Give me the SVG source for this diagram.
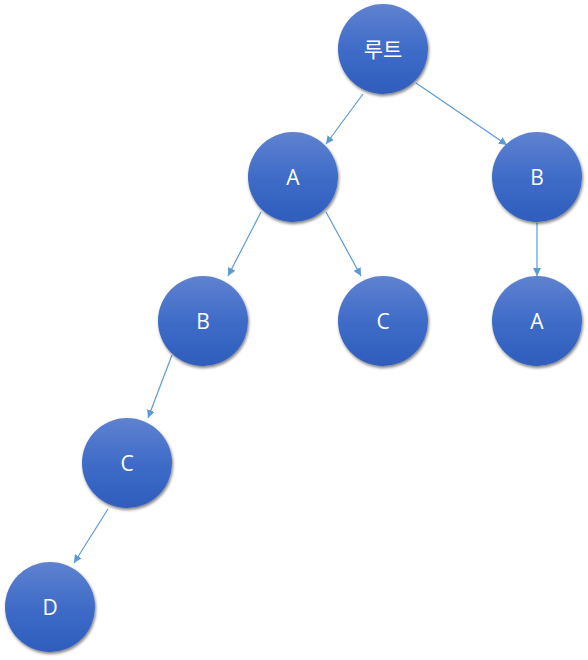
<svg xmlns="http://www.w3.org/2000/svg" width="588" height="660" viewBox="0 0 588 660">
<defs>
<linearGradient id="g" x1="0" y1="0" x2="0" y2="1">
<stop offset="0" stop-color="#5f82d0"/>
<stop offset="0.5" stop-color="#3f6cc8"/>
<stop offset="1" stop-color="#2f5dbd"/>
</linearGradient>
<filter id="sh" x="-20%" y="-20%" width="150%" height="150%">
<feGaussianBlur in="SourceAlpha" stdDeviation="1.5"/>
<feOffset dx="1" dy="2" result="b"/>
<feComponentTransfer><feFuncA type="linear" slope="0.5"/></feComponentTransfer>
<feMerge><feMergeNode/><feMergeNode in="SourceGraphic"/></feMerge>
</filter>
<marker id="ah" viewBox="0 0 10 10" refX="10" refY="5" markerWidth="8" markerHeight="8" markerUnits="userSpaceOnUse" orient="auto">
<path d="M0,0 L10,5 L0,10 z" fill="#5b9bd5"/>
</marker>
</defs>
<style>
.n circle{fill:url(#g);filter:url(#sh)}
.n text{fill:#fff;font-family:"Open Sans","Noto Sans","Noto Sans CJK KR",sans-serif;font-size:21px;text-anchor:middle;dominant-baseline:central}
.e line{stroke:#5b9bd5;stroke-width:1.2;marker-end:url(#ah)}
</style>
<g id="edges" class="e">
<line x1="363" y1="94" x2="326" y2="144"/>
<line x1="416" y1="83" x2="507" y2="145"/>
<line x1="261" y1="212" x2="228" y2="276"/>
<line x1="326" y1="212" x2="361" y2="276"/>
<line x1="537" y1="223" x2="537" y2="276"/>
<line x1="172" y1="355" x2="148" y2="418"/>
<line x1="108" y1="509" x2="74" y2="563"/>
</g>
<g id="root" class="n"><circle cx="383" cy="49" r="45"/><text x="383" y="49">루트</text></g>
<g id="A1" class="n"><circle cx="293" cy="177" r="45"/><text x="293" y="177">A</text></g>
<g id="B1" class="n"><circle cx="537" cy="177" r="45"/><text x="537" y="177">B</text></g>
<g id="B2" class="n"><circle cx="203" cy="321" r="45"/><text x="203" y="321">B</text></g>
<g id="C1" class="n"><circle cx="383" cy="321" r="45"/><text x="383" y="321">C</text></g>
<g id="A2" class="n"><circle cx="537" cy="321" r="45"/><text x="537" y="321">A</text></g>
<g id="C2" class="n"><circle cx="127" cy="463" r="45"/><text x="127" y="463">C</text></g>
<g id="D" class="n"><circle cx="50" cy="607" r="45"/><text x="50" y="607">D</text></g>
</svg>
